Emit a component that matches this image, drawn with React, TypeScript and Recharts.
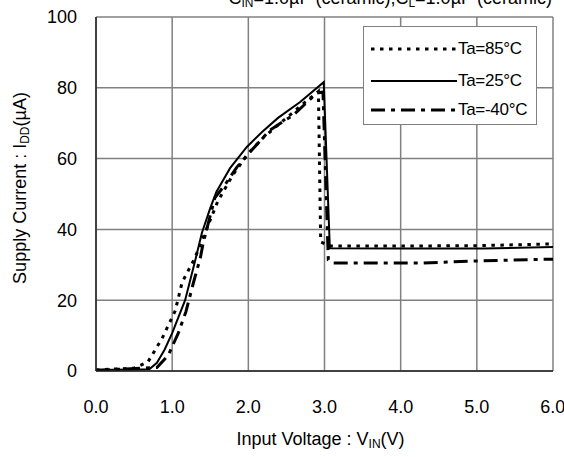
import { LineChart, Line, XAxis, YAxis, CartesianGrid, Label } from 'recharts';

// Ta=85°C (dotted)
const TA85 = [
  { v: 0, i: 0.3 }, { v: 0.5, i: 0.8 }, { v: 0.68, i: 2.5 }, { v: 0.87, i: 9.3 },
  { v: 1.04, i: 17 }, { v: 1.13, i: 25 }, { v: 1.3, i: 32 }, { v: 1.45, i: 40 },
  { v: 1.6, i: 48 }, { v: 1.8, i: 55.5 }, { v: 2.0, i: 61.5 }, { v: 2.2, i: 66 },
  { v: 2.5, i: 71.5 }, { v: 2.75, i: 76 }, { v: 2.92, i: 79 }, { v: 2.95, i: 36.5 },
  { v: 3.07, i: 35.3 }, { v: 4.0, i: 35.3 }, { v: 5.0, i: 35.4 }, { v: 6.0, i: 35.9 },
];

// Ta=25°C (solid)
const TA25 = [
  { v: 0, i: 0.3 }, { v: 0.7, i: 0.5 }, { v: 0.8, i: 2.3 }, { v: 0.9, i: 6 },
  { v: 1.0, i: 10.7 }, { v: 1.17, i: 20 }, { v: 1.3, i: 31 }, { v: 1.39, i: 39 },
  { v: 1.5, i: 46 }, { v: 1.58, i: 50.6 }, { v: 1.76, i: 57.3 }, { v: 1.98, i: 63.3 },
  { v: 2.18, i: 67.5 }, { v: 2.39, i: 71.5 }, { v: 2.68, i: 76 }, { v: 2.99, i: 81.6 },
  { v: 3.07, i: 34.7 }, { v: 4.0, i: 34.6 }, { v: 5.08, i: 34.6 }, { v: 6.0, i: 35 },
];

// Ta=-40°C (dash-dot)
const TAM40 = [
  { v: 0, i: 0.2 }, { v: 0.8, i: 1 }, { v: 0.95, i: 4.5 }, { v: 1.08, i: 10.7 },
  { v: 1.18, i: 16.7 }, { v: 1.28, i: 25 }, { v: 1.37, i: 32 }, { v: 1.41, i: 36.4 },
  { v: 1.56, i: 48.9 }, { v: 1.69, i: 52.5 }, { v: 1.85, i: 57.6 }, { v: 2.07, i: 63 },
  { v: 2.28, i: 68 }, { v: 2.59, i: 72.3 }, { v: 2.9, i: 78.5 }, { v: 2.98, i: 78.8 },
  { v: 3.05, i: 31.4 }, { v: 3.12, i: 30.5 }, { v: 4.3, i: 30.5 }, { v: 5.0, i: 31.1 },
  { v: 6.0, i: 31.6 },
];

const X_TICKS = [0, 1, 2, 3, 4, 5, 6];
const Y_TICKS = [0, 20, 40, 60, 80, 100];

const SERIES = [
  { name: 'Ta=85°C', data: TA85, dash: '3.5 5.5', width: 3 },
  { name: 'Ta=25°C', data: TA25, dash: undefined, width: 2 },
  { name: 'Ta=-40°C', data: TAM40, dash: '14 6 4 6', width: 3 },
];

const FONT = '"Liberation Sans", Arial, sans-serif';
const FS = 18;
const SUB = 12;

function XTitle(props: any) {
  const { viewBox } = props;
  const cx = viewBox.x + viewBox.width / 2;
  return (
    <g>
      <text x={cx - 4} y={445} textAnchor="middle" fontFamily={FONT} fontSize={FS} fill="#000">
        Input Voltage : V<tspan fontSize={SUB} dy={3}>IN</tspan><tspan dy={-3}>(V)</tspan>
      </text>
      <text x={552} y={4} textAnchor="end" fontFamily={FONT} fontSize={FS} fill="#000">
        C<tspan fontSize={SUB} dy={3}>IN</tspan><tspan dy={-3}>=1.0µF (ceramic),C</tspan>
        <tspan fontSize={SUB} dy={3}>L</tspan><tspan dy={-3}>=1.0µF (ceramic)</tspan>
      </text>
    </g>
  );
}

function YTitle() {
  return (
    <text
      x={0}
      y={0}
      transform="translate(26,188) rotate(-90)"
      textAnchor="middle"
      fontFamily={FONT}
      fontSize={FS}
      fill="#000"
    >
      Supply Current : I<tspan fontSize={SUB} dy={3}>DD</tspan><tspan dy={-3}>(µA)</tspan>
    </text>
  );
}

export default function App() {
  return (
    <div style={{ position: 'absolute', left: 0, top: 0, width: 564, height: 457, background: '#fff' }}>
      <LineChart
        width={564}
        height={457}
        margin={{ top: 17, right: 11, bottom: 0, left: 0 }}
      >
        <CartesianGrid stroke="#808080" strokeWidth={1.5} />
        <XAxis
          type="number"
          dataKey="v"
          domain={[0, 6]}
          ticks={X_TICKS}
          tickFormatter={(t: number) => t.toFixed(1)}
          height={86}
          tickSize={0}
          tickMargin={29}
          stroke="#222"
          strokeWidth={1.5}
          tick={{ fill: '#000', fontFamily: FONT, fontSize: FS }}
          allowDataOverflow
        >
          <Label content={XTitle} />
        </XAxis>
        <YAxis
          type="number"
          dataKey="i"
          domain={[0, 100]}
          ticks={Y_TICKS}
          width={96}
          tickSize={0}
          tickMargin={19}
          stroke="#222"
          strokeWidth={1.5}
          tick={{ fill: '#000', fontFamily: FONT, fontSize: FS }}
          allowDataOverflow
        >
          <Label content={YTitle} />
        </YAxis>
        {SERIES.map((s) => (
          <Line
            key={s.name}
            data={s.data}
            dataKey="i"
            name={s.name}
            type="linear"
            stroke="#000"
            strokeWidth={s.width}
            strokeDasharray={s.dash}
            dot={false}
            activeDot={false}
            isAnimationActive={false}
          />
        ))}
      </LineChart>
      <div
        style={{
          position: 'absolute',
          left: 363,
          top: 26,
          width: 172,
          height: 97,
          border: '1.5px solid #808080',
          background: '#fff',
          fontFamily: FONT,
          fontSize: 17,
        }}
      >
        {SERIES.map((s, k) => (
          <div
            key={s.name}
            style={{ position: 'absolute', left: 7, top: [10, 42, 71][k], display: 'flex', alignItems: 'center', height: 24 }}
          >
            <svg width={86} height={10}>
              <line x1={0} y1={5} x2={86} y2={5} stroke="#000" strokeWidth={s.width} strokeDasharray={s.dash} />
            </svg>
            <span style={{ marginLeft: 1, whiteSpace: 'nowrap', letterSpacing: -0.3 }}>{s.name}</span>
          </div>
        ))}
      </div>
    </div>
  );
}
